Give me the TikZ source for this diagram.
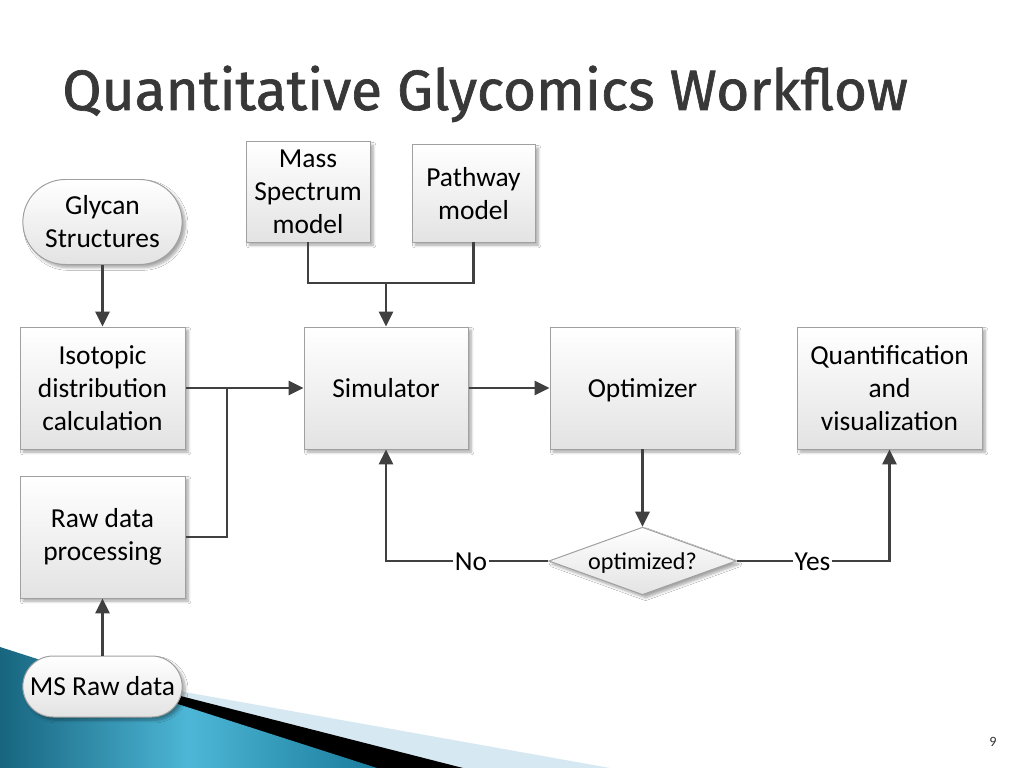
\documentclass[tikz,border=0pt]{standalone}
\usepackage{fontspec}
\setmainfont{Carlito}
\newfontfamily\titlefont[FakeBold=1.2]{Fira Sans}
\usetikzlibrary{arrows.meta,shapes.misc,shapes.geometric,shadows.blur}
\newlength\pxu
\setlength\pxu{0.703125pt}
\newcommand\lowerx[1]{\raisebox{-2.5\pxu}[\height][\depth]{\strut #1}}
\definecolor{linec}{HTML}{404040}
\definecolor{bordc}{HTML}{A0A0A0}
\definecolor{tealdark}{HTML}{17657F}
\definecolor{tealmid}{HTML}{4DB6D6}
\definecolor{tealend}{HTML}{1A7C9C}
\definecolor{lightstripe}{HTML}{D6E8F1}
\tikzset{
  boxbase/.style={draw=bordc, line width=0.7pt, top color=white, bottom color=black!11,
    align=center, font=\fontsize{19.3}{23.2}\selectfont, inner sep=2pt,
    blur shadow={shadow xshift=2.2pt, shadow yshift=-2.2pt, shadow blur steps=6, shadow opacity=35}},
  procbox/.style={boxbase, rectangle},
  termbox/.style={boxbase, rounded rectangle},
  decbox/.style={boxbase, diamond, inner sep=0pt, font=\fontsize{17}{20}\selectfont},
  wire/.style={draw=linec, line width=1.5pt},
  arrowwire/.style={wire, -{Triangle[length=10.5pt, width=10pt]}},
  lbl/.style={inner sep=1pt, font=\fontsize{19.3}{23.2}\selectfont}
}
\begin{document}
\begin{tikzpicture}[x=0.703125pt, y=-0.703125pt]
\path[use as bounding box, fill=white] (0,0) rectangle (1024,768);

% bottom-left decoration
\fill[lightstripe] (0,659) -- (610,768) -- (0,768) -- cycle;
\fill[black] (0,650) -- (463,768) -- (0,768) -- cycle;
\shade[left color=tealdark, right color=tealend, middle color=tealmid, shading angle=90]
  (0,647) -- (377,768) -- (0,768) -- cycle;

% title
\node[anchor=base west, inner sep=0pt, text=black!78, font=\titlefont\fontsize{40}{48}\selectfont] (title) at (62,110) {Quantitative Glycomics Workflow};

% nodes
\node[termbox, minimum width=165\pxu, minimum height=85\pxu] (gly) at (102.5,222) {Glycan\\Structures};
\node[procbox, minimum width=124\pxu, minimum height=100\pxu] (mass) at (308,192) {Mass\\Spectrum\\model};
\node[procbox, minimum width=123\pxu, minimum height=97\pxu] (pathw) at (473.5,193.5) {Pathway\\model};
\node[procbox, minimum width=165\pxu, minimum height=122\pxu] (iso) at (102.5,388) {Isotopic\\distribution\\calculation};
\node[procbox, minimum width=164\pxu, minimum height=122\pxu] (sim) at (386,388) {\lowerx{Simulator}};
\node[procbox, minimum width=185\pxu, minimum height=122\pxu] (opt) at (642.5,388) {\lowerx{Optimizer}};
\node[procbox, minimum width=185\pxu, minimum height=122\pxu] (quant) at (889.5,388) {Quantification\\and\\visualization};
\node[procbox, minimum width=165\pxu, minimum height=122\pxu] (raw) at (102.5,537) {Raw data\\processing};
\node[termbox, minimum width=165\pxu, minimum height=61\pxu] (msraw) at (102.5,686.5) {\lowerx{MS Raw data}};
\node[decbox, minimum width=183\pxu, minimum height=66\pxu, aspect=2.77] (dec) at (642.5,561) {\lowerx{optimized?}};

\node[lbl] (no) at (471,561) {\lowerx{No}};
\node[lbl] (yes) at (812.5,561) {\lowerx{Yes}};

\coordinate (j1) at (227,388);
\coordinate (j2) at (386,283);

% connectors
\draw[arrowwire] (gly.south) -- (iso.north);
\draw[wire] (mass.south) |- (j2);
\draw[wire] (pathw.south) |- (j2);
\draw[arrowwire] (j2) -- (sim.north);
\draw[arrowwire] (iso.east) -- (sim.west);
\draw[wire] (raw.east) -| (j1);
\draw[arrowwire] (sim.east) -- (opt.west);
\draw[arrowwire] (opt.south) -- (dec.north);
\draw[wire] (dec.west) -- (no.east);
\draw[arrowwire] (no.west) -| (sim.south);
\draw[wire] (dec.east) -- (yes.west);
\draw[arrowwire] (yes.east) -| (quant.south);
\draw[arrowwire] (msraw.north) -- (raw.south);

% page number
\node[inner sep=0pt, text=black!80, font=\fontsize{10}{12}\selectfont] (pnum) at (993,742) {9};
\end{tikzpicture}
\end{document}
